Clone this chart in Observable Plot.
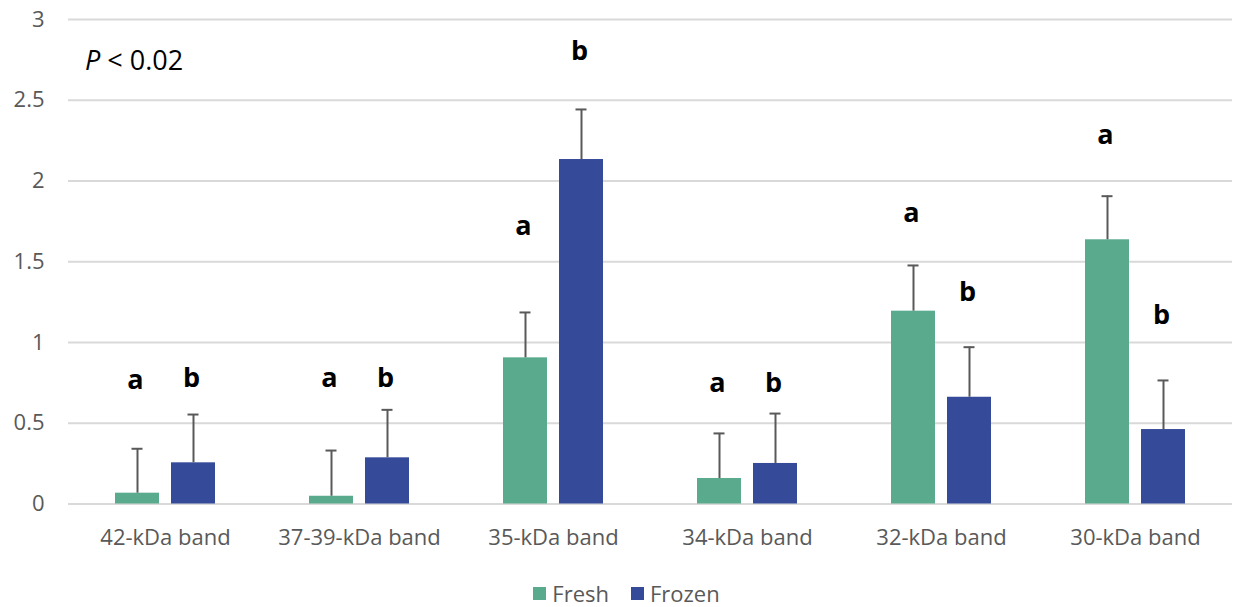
<!DOCTYPE html>
<html>
<head>
<meta charset="utf-8">
<script src="https://cdn.jsdelivr.net/npm/d3@7"></script>
<script src="https://cdn.jsdelivr.net/npm/@observablehq/plot@0.6"></script>
<style>
  body { margin: 0; background: #fff; font-family: "Open Sans", sans-serif; overflow: hidden; }
  #chart { position: relative; width: 1239px; }
  .legend { display: flex; justify-content: center; gap: 22px; font-size: 22px; line-height: 24px; height: 24px; color: #595959; margin-top: 26px; padding-left: 14px; }
  .legend span { display: inline-flex; align-items: center; }
  .legend i { display: inline-block; width: 13px; height: 13px; margin-right: 6px; }
</style>
</head>
<body>
<div id="chart"></div>
<script>
const categories = ["42-kDa band", "37-39-kDa band", "35-kDa band", "34-kDa band", "32-kDa band", "30-kDa band"];
const series = ["Fresh", "Frozen"];
const colors = ["#5aab8e", "#354a99"];
const freshValues = [0.067, 0.048, 0.905, 0.158, 1.194, 1.636];
const frozenValues = [0.255, 0.286, 2.133, 0.251, 0.661, 0.461];
const freshErrors = [0.275, 0.283, 0.281, 0.279, 0.283, 0.270];
const frozenErrors = [0.299, 0.297, 0.310, 0.309, 0.310, 0.304];
const freshLetters = ["a", "a", "a", "a", "a", "a"];
const frozenLetters = ["b", "b", "b", "b", "b", "b"];
const freshLetterY = [0.765, 0.78, 1.72, 0.75, 1.80, 2.28];
const frozenLetterY = [0.777, 0.78, 2.80, 0.75, 1.31, 1.17];
const yTicks = [0, 0.5, 1, 1.5, 2, 2.5, 3];
const annotation = "< 0.02";

const data = [];
categories.forEach((c, i) => {
  data.push({category: c, series: "Fresh", value: freshValues[i], err: freshErrors[i], letter: freshLetters[i], ly: freshLetterY[i]});
  data.push({category: c, series: "Frozen", value: frozenValues[i], err: frozenErrors[i], letter: frozenLetters[i], ly: frozenLetterY[i]});
});

const chart = Plot.plot({
  width: 1239,
  height: 555,
  marginTop: 19,
  marginBottom: 51.5,
  marginLeft: 67,
  marginRight: 7,
  style: {fontFamily: "Open Sans, sans-serif", fontSize: "22px", color: "#595959", background: "#fff"},
  fx: {domain: categories, padding: 0, label: null, axis: "bottom", tickSize: 0, tickPadding: 25},
  x: {domain: series, paddingInner: 0.214, paddingOuter: 0.839, axis: null},
  y: {domain: [0, 3], ticks: yTicks, label: null, tickSize: 0, tickPadding: 24, tickFormat: d => String(d)},
  color: {domain: series, range: colors},
  marks: [
    Plot.gridY(yTicks, {stroke: "#d9d9d9", strokeOpacity: 1, strokeWidth: 2}),
    Plot.barY(data, {fx: "category", x: "series", y: "value", fill: "series"}),
    Plot.ruleX(data, {fx: "category", x: "series", y1: "value", y2: d => d.value + d.err, stroke: "#595959", strokeWidth: 2}),
    Plot.tickY(data, {fx: "category", x: "series", y: d => d.value + d.err, stroke: "#595959", strokeWidth: 2, insetLeft: 16.5, insetRight: 16.5}),
    Plot.text(data, {fx: "category", x: "series", y: "ly", text: "letter", fontWeight: "bold", fontSize: 27, fill: "#000", dx: -2}),
  ]
});

// P < 0.02 annotation as text inside the svg
const svgNS = "http://www.w3.org/2000/svg";
const t = document.createElementNS(svgNS, "text");
t.setAttribute("x", 85);
t.setAttribute("y", 70);
t.setAttribute("font-size", 27);
t.setAttribute("text-anchor", "start");
t.setAttribute("fill", "#000");
t.setAttribute("font-family", "Open Sans, sans-serif");
const tp = document.createElementNS(svgNS, "tspan");
tp.setAttribute("font-style", "italic");
tp.textContent = "P";
const tr = document.createElementNS(svgNS, "tspan");
tr.textContent = " " + annotation;
t.appendChild(tp); t.appendChild(tr);
chart.appendChild(t);

document.getElementById("chart").appendChild(chart);

const legend = document.createElement("div");
legend.className = "legend";
series.forEach((s, i) => {
  const span = document.createElement("span");
  const sw = document.createElement("i");
  sw.style.background = colors[i];
  span.appendChild(sw);
  span.appendChild(document.createTextNode(s));
  legend.appendChild(span);
});
document.getElementById("chart").appendChild(legend);
</script>
</body>
</html>
